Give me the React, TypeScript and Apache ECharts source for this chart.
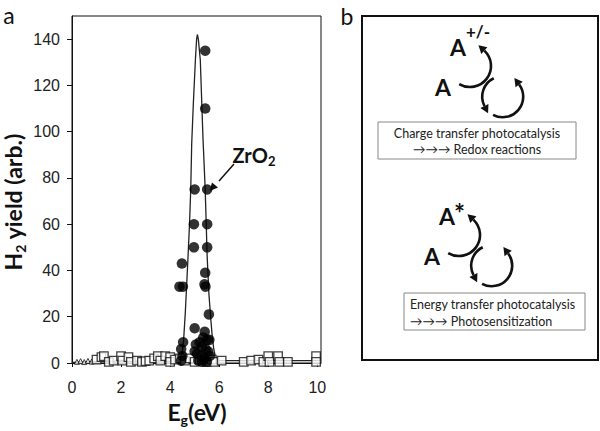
import React, { useEffect, useRef } from "react";
import * as echarts from "echarts";

// ---------------- data (panel a) ----------------
const xTicks = [0, 2, 4, 6, 8, 10];
const yTicks = [0, 20, 40, 60, 80, 100, 120, 140];

// fitted curve
const fitCurve: [number, number][] = [
  [0, 0.3], [1, 0.6], [2, 0.8], [3, 0.8], [4, 0.8], [4.4, 1], [4.5, 5], [4.55, 10],
  [4.62, 22], [4.68, 35], [4.73, 46], [4.79, 60], [4.84, 75], [4.88, 95], [4.95, 113],
  [5.03, 131], [5.08, 140], [5.11, 142], [5.15, 140], [5.23, 131], [5.34, 97],
  [5.43, 75], [5.51, 46], [5.58, 30], [5.65, 20], [5.72, 11], [5.78, 6], [5.85, 2.5],
  [5.95, 1], [7, 1], [8, 1], [9, 1], [10, 1],
];

// ZrO2 samples (filled circles)
const zro2Points: [number, number][] = [
  [5.43, 135], [5.43, 110], [5.0, 75], [5.51, 75], [4.97, 60], [5.51, 60], [4.97, 50],
  [5.51, 50], [4.48, 43], [4.38, 33], [4.52, 33], [5.43, 39], [5.4, 34], [5.44, 33],
  [5.58, 21], [5.0, 15], [4.53, 9], [4.45, 6], [4.5, 3], [4.45, 1], [5.41, 13.5],
  [5.35, 11], [5.5, 10], [5.6, 10], [5.2, 9], [5.3, 7], [5.05, 8], [5.0, 5], [5.1, 4],
  [5.25, 3], [5.4, 2], [5.55, 5], [5.45, 6], [5.3, 0.5], [5.5, 0.5], [5.15, 1], [5.62, 3],
];

// other oxides (open squares)
const otherPoints: [number, number][] = [
  [1.0, 1.5], [1.2, 2.5], [1.3, 3], [1.5, 0.5], [1.7, 1], [2.0, 3], [2.05, 1], [2.3, 2.5],
  [2.4, 0.5], [2.65, 1], [2.85, 0.5], [3.0, 0.8], [3.15, 1], [3.35, 2], [3.5, 3], [3.6, 1],
  [3.8, 3], [4.0, 2.5], [4.0, 0.5], [4.2, 1.5], [4.4, 2], [4.6, 1], [4.8, 2], [5.0, 0.5],
  [5.2, 1.5], [5.5, 0.5], [5.7, 1.5], [5.8, 0.5], [6.1, 1], [7.0, 0.5], [7.3, 1],
  [7.6, 1.5], [7.8, 0.5], [8.0, 3], [8.05, 0.5], [8.4, 3], [8.45, 0.5], [8.8, 0.5],
  [9.95, 3], [9.95, 0.5],
];

// tiny open markers near origin
const smallPoints: [number, number][] = [
  [0.2, 0.5], [0.35, 0.8], [0.5, 0.4], [0.65, 0.9], [0.8, 0.6],
];

// ---------------- helpers ----------------
function arrowHead(ex: number, ey: number, dx: number, dy: number, len: number, w: number) {
  const n = Math.hypot(dx, dy);
  const ux = dx / n, uy = dy / n;
  const px = -uy, py = ux;
  return [
    [ex + ux * len, ey + uy * len],
    [ex + px * w, ey + py * w],
    [ex - px * w, ey - py * w],
  ];
}

function arcWithHead(cx: number, cy: number, r: number, fromA: number, toA: number) {
  // travels from fromA to toA (decreasing angle), arrow at toA
  const els: any[] = [];
  els.push({
    type: "arc",
    shape: { cx, cy, r, startAngle: toA, endAngle: fromA, clockwise: true },
    style: { stroke: "#111", lineWidth: 2.6, fill: "none" },
  });
  const ex = cx + r * Math.cos(toA), ey = cy + r * Math.sin(toA);
  const dx = Math.sin(toA), dy = -Math.cos(toA);
  els.push({
    type: "polygon",
    shape: { points: arrowHead(ex, ey, dx, dy, 8, 4.5) },
    style: { fill: "#111" },
  });
  return els;
}

function cycle(ox: number, oy: number, top: string, topSupX: number, topSupY: number, supSize: number) {
  const els: any[] = [];
  els.push({
    type: "text", x: 458 + ox, y: 47 + oy,
    style: { text: "A", font: "bold 23px Lato", fill: "#111", align: "center", verticalAlign: "middle" },
  });
  els.push({
    type: "text", x: topSupX + ox, y: topSupY + oy,
    style: { text: top, font: `bold ${supSize}px Lato`, fill: "#111", align: "left", verticalAlign: "middle" },
  });
  els.push({
    type: "text", x: 443 + ox, y: 87 + oy,
    style: { text: "A", font: "bold 23px Lato", fill: "#111", align: "center", verticalAlign: "middle" },
  });
  els.push(...arcWithHead(470 + ox, 66 + oy, 21, 2.11, -0.82));
  els.push(...arcWithHead(502.7 + ox, 96.7 + oy, 20.5, 4.26, 2.67));
  els.push(...arcWithHead(502.7 + ox, 96.7 + oy, 20.5, 2.06, -0.64));
  return els;
}

export default function App() {
  const ref = useRef<HTMLDivElement>(null);
  useEffect(() => {
    if (!ref.current) return;
    const chart = echarts.init(ref.current, undefined, { renderer: "svg" });

    const labelFont = { fontFamily: "Liberation Sans", fontSize: 16, color: "#222" };
    const zArrow = arrowHead(215, 185, -18, 21, 8, 4);

    const graphics: any[] = [
      // panel labels
      { type: "text", x: 9, y: 15, style: { text: "a", font: "23px Lato", fill: "#111", align: "center", verticalAlign: "middle" } },
      { type: "text", x: 347, y: 16, style: { text: "b", font: "23px Lato", fill: "#111", align: "center", verticalAlign: "middle" } },
      // axis titles
      {
        type: "text", x: 13, y: 202, rotation: Math.PI / 2,
        style: {
          text: "{m|H}{s|2}{m| yield (arb.)}", align: "center", verticalAlign: "middle",
          rich: {
            m: { font: "bold 23px Lato", fill: "#111", lineHeight: 28 },
            s: { font: "bold 14px Lato", fill: "#111", lineHeight: 14, verticalAlign: "bottom" },
          },
        },
      },
      {
        type: "text", x: 197, y: 412,
        style: {
          text: "{m|E}{s|g}{m|(eV)}", align: "center", verticalAlign: "middle",
          rich: {
            m: { font: "bold 23px Lato", fill: "#111", lineHeight: 28 },
            s: { font: "bold 14px Lato", fill: "#111", lineHeight: 14, verticalAlign: "bottom" },
          },
        },
      },
      // ZrO2 annotation
      {
        type: "text", x: 254, y: 155,
        style: {
          text: "{m|ZrO}{s|2}", align: "center", verticalAlign: "middle",
          rich: {
            m: { font: "bold 20px Lato", fill: "#111", lineHeight: 24 },
            s: { font: "bold 13px Lato", fill: "#111", lineHeight: 12, verticalAlign: "bottom" },
          },
        },
      },
      { type: "line", shape: { x1: 234, y1: 164, x2: 219, y2: 181 }, style: { stroke: "#111", lineWidth: 1.5 } },
      { type: "polygon", shape: { points: zArrow }, style: { fill: "#111" } },
      // panel b frame
      { type: "rect", shape: { x: 362, y: 16, width: 236, height: 344 }, style: { fill: "none", stroke: "#111", lineWidth: 2 } },
      // boxes
      { type: "rect", shape: { x: 378, y: 122, width: 198, height: 37 }, style: { fill: "#fff", stroke: "#888", lineWidth: 1 } },
      { type: "text", x: 477, y: 133, style: { text: "Charge transfer photocatalysis", font: "12.5px Lato", fill: "#222", align: "center", verticalAlign: "middle" } },
      { type: "text", x: 477, y: 149, style: { text: "→→→ Redox reactions", font: "12.5px Lato", fill: "#222", align: "center", verticalAlign: "middle" } },
      { type: "rect", shape: { x: 404, y: 293, width: 181, height: 37 }, style: { fill: "#fff", stroke: "#888", lineWidth: 1 } },
      { type: "text", x: 410, y: 304, style: { text: "Energy transfer photocatalysis", font: "12.5px Lato", fill: "#222", align: "left", verticalAlign: "middle" } },
      { type: "text", x: 410, y: 321, style: { text: "→→→ Photosensitization", font: "12.5px Lato", fill: "#222", align: "left", verticalAlign: "middle" } },
      ...cycle(0, 0, "+/-", 466, 31, 17),
      ...cycle(-11, 169, "*", 465, 44, 26),
    ];

    chart.setOption({
      animation: false,
      grid: {
        left: 72, top: 16, right: 279, bottom: 68, show: true,
        borderColor: "#111", borderWidth: 1, containLabel: false, outerBoundsMode: "none",
      },
      xAxis: {
        type: "value", min: 0, max: 10.15,
        axisLine: { show: true, lineStyle: { color: "#111", width: 1 } },
        axisTick: { show: true, length: 4, customValues: xTicks, lineStyle: { color: "#111" } },
        axisLabel: { ...labelFont, margin: 16, customValues: xTicks },
        splitLine: { show: false },
      },
      yAxis: {
        type: "value", min: 0, max: 150,
        axisLine: { show: true, lineStyle: { color: "#111", width: 1 } },
        axisTick: { show: true, length: 5, customValues: yTicks, lineStyle: { color: "#111" } },
        axisLabel: { ...labelFont, margin: 12, customValues: yTicks },
        splitLine: { show: false },
      },
      series: [
        {
          type: "line", data: fitCurve, showSymbol: false, smooth: false, z: 2,
          lineStyle: { color: "#222", width: 1.3 },
        },
        {
          type: "scatter", data: smallPoints, symbol: "triangle", symbolSize: 5, z: 3,
          itemStyle: { color: "#fff", borderColor: "#111", borderWidth: 1 },
        },
        {
          type: "scatter", data: otherPoints, symbol: "rect", symbolSize: 8.5, z: 3,
          itemStyle: { color: "#fff", borderColor: "#111", borderWidth: 1.3 },
        },
        {
          type: "scatter", data: zro2Points, symbol: "circle", symbolSize: 10.5, z: 4,
          itemStyle: { color: "#000" },
        },
      ],
      graphic: graphics,
    });
    return () => chart.dispose();
  }, []);
  return (
    <div
      ref={ref}
      style={{ position: "fixed", left: 0, top: 0, width: 600, height: 431, background: "#fff" }}
    />
  );
}
